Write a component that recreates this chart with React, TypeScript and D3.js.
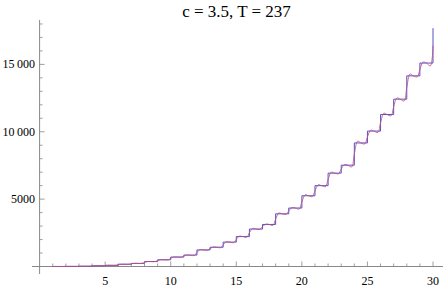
import * as d3 from 'd3'

const W = 443
const H = 286

const TITLE = 'c = 3.5, T = 237'

// staircase: value held on [n, n+1)
const STEP_X = [1, 2, 3, 4, 5, 6, 7, 8, 9, 10, 11, 12, 13, 14, 15, 16, 17, 18, 19, 20, 21, 22, 23, 24, 25, 26, 27, 28, 29, 30]
const STEP_Y = [1, 8, 21, 53, 87, 168, 231, 366, 498, 700, 850, 1230, 1430, 1810, 2220, 2780, 3120, 3910, 4340, 5250, 6000, 6930, 7520, 9170, 10050, 11280, 12420, 14150, 15100, 17690]

// smooth approximation
const SMOOTH_X = [
  1, 1.2, 1.8, 2, 2.2, 2.8, 3, 3.2, 3.8, 4, 4.2, 4.8, 5, 5.2, 5.8, 6, 6.2, 6.8, 7, 7.2, 7.8,
  8, 8.2, 8.8, 9, 9.2, 9.8, 10, 10.2, 10.8, 11, 11.2, 11.8,
  12, 12.25, 12.5, 12.8, 13, 13.25, 13.5, 13.8, 14, 14.25, 14.5, 14.8, 15, 15.25, 15.5, 15.8,
  16, 16.25, 16.5, 16.8, 17, 17.25, 17.5, 17.8, 18, 18.25, 18.5, 18.8, 19, 19.25, 19.5, 19.8,
  20, 20.25, 20.5, 20.8, 21, 21.25, 21.5, 21.8, 22, 22.25, 22.5, 22.8, 23, 23.25, 23.5, 23.8,
  24, 24.25, 24.5, 24.8, 25, 25.25, 25.5, 25.8, 26, 26.25, 26.5, 26.8, 27, 27.25, 27.5, 27.8,
  28, 28.25, 28.5, 28.8, 29, 29.25, 29.5, 29.8, 30,
]
const SMOOTH_Y = [
  0, 1, 1, 5, 8, 8, 15, 21, 21, 37, 53, 53, 70, 87, 87, 128, 168, 168, 200, 231, 231,
  299, 366, 366, 432, 498, 498, 600, 700, 700, 775, 850, 820,
  1040, 1260, 1230, 1214, 1330, 1446, 1430, 1400, 1620, 1840, 1810, 1777, 2015, 2253, 2220, 2175,
  2500, 2825, 2780, 2753, 2950, 3147, 3120, 3057, 3515, 3973, 3910, 3876, 4125, 4374, 4340, 4267,
  4795, 5323, 5250, 5190, 5625, 6060, 6000, 5926, 6465, 7004, 6930, 6883, 7225, 7567, 7520, 7388,
  8345, 9302, 9170, 9100, 9610, 10120, 10050, 9952, 10665, 11378, 11280, 11189, 11850, 12511, 12420, 12282,
  13285, 14288, 14150, 14074, 14625, 15176, 15100, 14893, 16395,
]

const X_MAJOR = [5, 10, 15, 20, 25, 30]
const Y_MAJOR = [5000, 10000, 15000]
const Y_LABELS = ['5000', '10\u2009000', '15\u2009000']

const AXIS = '#888'
const BLUE = '#5252c8'
const RED = '#c24c80'
const FONT = "'Liberation Serif', 'DejaVu Serif', serif"

export default function App() {
  const x = d3.scaleLinear().domain([0, 30]).range([39.6, 433])
  const y = d3.scaleLinear().domain([0, 15000]).range([266.5, 64.4])

  const stepLine = d3.line<number>()
    .x((_, i) => x(STEP_X[i]))
    .y((d) => y(d))
    .curve(d3.curveStepAfter)

  const smoothLine = d3.line<number>()
    .x((_, i) => x(SMOOTH_X[i]))
    .y((d) => y(d))
    .curve(d3.curveCatmullRom)

  const xMinor = d3.range(1, 31)
  const yMinor = d3.range(1000, 19000, 1000)
  const y0 = y(0)
  const xAxisLeft = 32
  const yAxisX = x(0)
  const textStyle = { fontFamily: FONT }

  return (
    <svg width={W} height={H} style={{ position: 'absolute', left: 0, top: 0, background: '#fff' }}>
      <text x={236.5} y={17} textAnchor="middle" style={textStyle} fontSize={17} fill="#000">
        {TITLE}
      </text>

      {/* axes */}
      <line x1={xAxisLeft} x2={W} y1={y0} y2={y0} stroke={AXIS} strokeWidth={1} />
      <line x1={yAxisX} x2={yAxisX} y1={20} y2={274} stroke={AXIS} strokeWidth={1} />

      {xMinor.map((t) => {
        const major = X_MAJOR.includes(t)
        return (
          <line key={'xt' + t} x1={x(t)} x2={x(t)} y1={y0} y2={y0 - (major ? 5 : 3)} stroke={AXIS} strokeWidth={0.8} />
        )
      })}
      {X_MAJOR.map((t) => (
        <text key={'xl' + t} x={x(t)} y={284.5} textAnchor="middle" style={textStyle} fontSize={12} fill="#000">
          {t}
        </text>
      ))}

      {yMinor.map((t) => {
        const major = Y_MAJOR.includes(t)
        return (
          <line key={'yt' + t} x1={yAxisX} x2={yAxisX + (major ? 5 : 3)} y1={y(t)} y2={y(t)} stroke={AXIS} strokeWidth={0.8} />
        )
      })}
      {Y_MAJOR.map((t, i) => (
        <text key={'yl' + t} x={35} y={y(t) + 4} textAnchor="end" style={textStyle} fontSize={12} fill="#000">
          {Y_LABELS[i]}
        </text>
      ))}

      {/* staircase */}
      <path d={stepLine(STEP_Y) ?? ''} fill="none" stroke={BLUE} strokeWidth={1} />
      {/* smooth approximation */}
      <path d={smoothLine(SMOOTH_Y) ?? ''} fill="none" stroke={RED} strokeWidth={1} strokeOpacity={0.85} />
    </svg>
  )
}
